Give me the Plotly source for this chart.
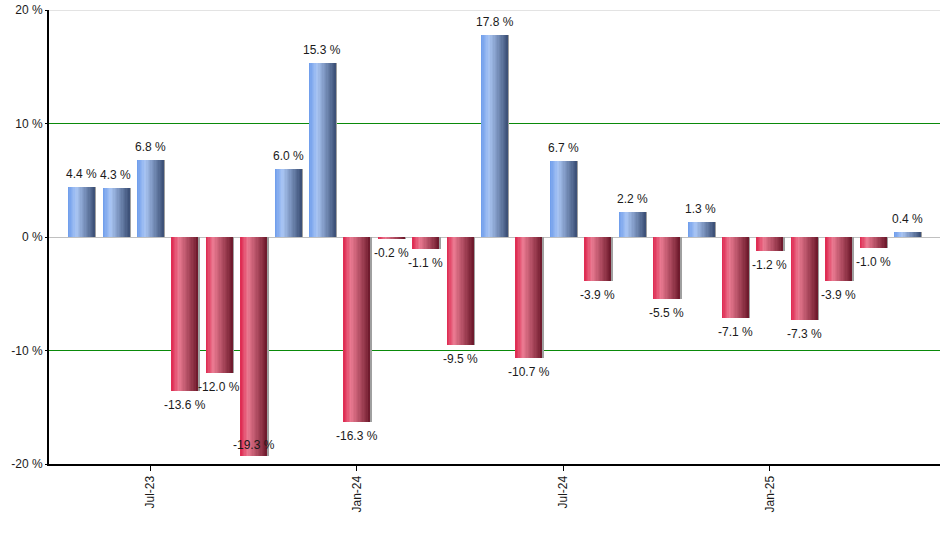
import plotly.graph_objects as go

# monthly returns, May-23 .. May-25
months = ["May-23", "Jun-23", "Jul-23", "Aug-23", "Sep-23", "Oct-23", "Nov-23", "Dec-23",
          "Jan-24", "Feb-24", "Mar-24", "Apr-24", "May-24", "Jun-24", "Jul-24", "Aug-24",
          "Sep-24", "Oct-24", "Nov-24", "Dec-24", "Jan-25", "Feb-25", "Mar-25", "Apr-25", "May-25"]
returns = [4.4, 4.3, 6.8, -13.6, -12.0, -19.3, 6.0, 15.3, -16.3, -0.2, -1.1, -9.5, 17.8,
           -10.7, 6.7, -3.9, 2.2, -5.5, 1.3, -7.1, -1.2, -7.3, -3.9, -1.0, 0.4]
tick_months = ["Jul-23", "Jan-24", "Jul-24", "Jan-25"]
y_ticks = [-20, -10, 0, 10, 20]

# gradient stops (position across bar, rgb) for up / down bars
BLUE = [(0.0, (108, 155, 235)), (0.3, (170, 198, 244)), (1.0, (58, 78, 116))]
RED = [(0.0, (222, 38, 78)), (0.28, (234, 122, 145)), (1.0, (108, 24, 42))]


def grad(stops, t):
    for (p0, c0), (p1, c1) in zip(stops, stops[1:]):
        if p0 <= t <= p1:
            f = (t - p0) / (p1 - p0)
            return "rgb(%d,%d,%d)" % tuple(round(a + (b - a) * f) for a, b in zip(c0, c1))
    return "rgb(%d,%d,%d)" % stops[-1][1]


W = 0.78
N = 20
step = W / N
fig = go.Figure()
# thin grey shadow on the right of every bar
fig.add_trace(go.Bar(x=months, y=returns, width=W, offset=-W / 2 + 0.045,
                     marker=dict(color="#a0a0a0", line_width=0), hoverinfo="skip"))
for i in range(N):
    t = (i + 0.5) / N
    cols = [grad(BLUE if v >= 0 else RED, t) for v in returns]
    fig.add_trace(go.Bar(x=months, y=returns, width=min(step * 2, W - i * step),
                         offset=-W / 2 + i * step,
                         marker=dict(color=cols, line_width=0), hoverinfo="skip"))

# value labels: above up bars, below down bars (inside when no room)
for m, v in zip(months, returns):
    if v >= 0:
        anchor, shift = "bottom", 4
    elif v < -18:
        anchor, shift = "bottom", 2
    else:
        anchor, shift = "top", -5
    fig.add_annotation(x=m, y=v, text="%.1f %%" % v, showarrow=False,
                       yanchor=anchor, yshift=shift,
                       font=dict(family="Liberation Sans, Arial", size=12, color="#1a1a1a"))

# light grey line along the top edge (green grid handles +-10)
fig.add_shape(type="line", xref="paper", x0=0, x1=1, yref="y", y0=20, y1=20,
              line=dict(color="#c8c8c8", width=1))

fig.update_layout(
    width=940, height=550, showlegend=False, barmode="overlay", bargap=0,
    plot_bgcolor="white", paper_bgcolor="white",
    margin=dict(l=49, r=0, t=10, b=86, autoexpand=False),
    font=dict(family="Liberation Sans, Arial", size=12, color="#1a1a1a"),
    xaxis=dict(type="category", range=[-0.945, len(months) - 1 + 0.945], automargin=False,
               tickmode="array", tickvals=tick_months, ticktext=tick_months, tickangle=-90,
               ticks="outside", ticklen=5, tickcolor="black", showgrid=False,
               showline=True, linecolor="black", linewidth=2, zeroline=False),
    yaxis=dict(range=[-20, 20], tickvals=y_ticks, ticktext=["%d %%" % v for v in y_ticks],
               automargin=False, ticks="outside", ticklen=2, tickcolor="black",
               showgrid=True, gridcolor="#0a8a0a", gridwidth=1.4,
               showline=True, linecolor="black", linewidth=2,
               zeroline=True, zerolinecolor="#c0c0c0", zerolinewidth=1),
)
# drop the browser's default 8px body margin so the figure sits at the window corner
fig.write_html("out.html", post_script="document.body.style.margin='0';",
               config={"displayModeBar": False})
